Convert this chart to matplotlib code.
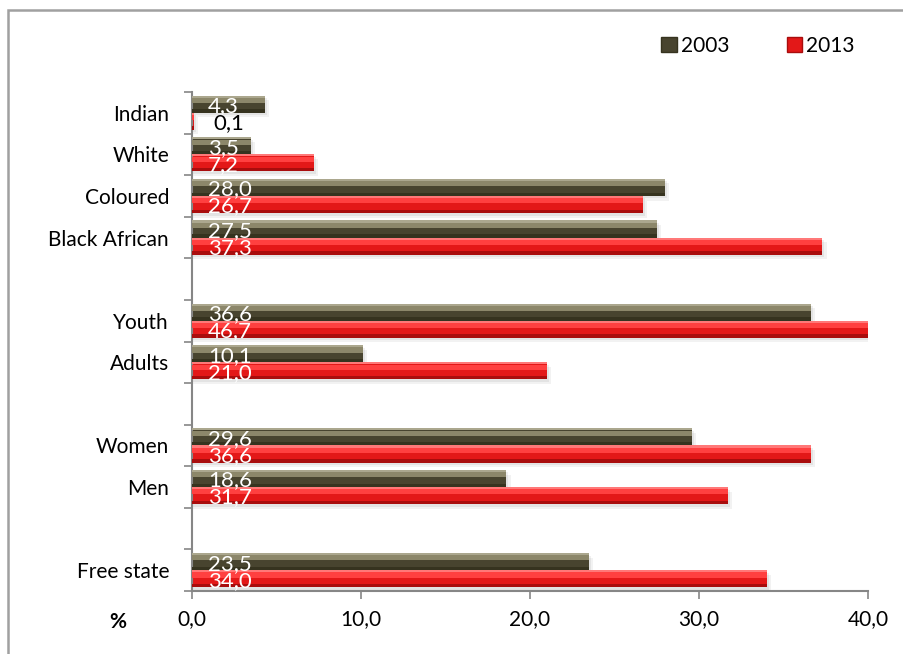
import numpy as np
import matplotlib
matplotlib.use("Agg")
import matplotlib.pyplot as plt
from matplotlib.patches import Rectangle, Patch

# ---------------- data ----------------
categories = ["Free state", "", "Men", "Women", "", "Adults", "Youth", "",
              "Black African", "Coloured", "White", "Indian"]
values_2003 = [23.5, np.nan, 18.6, 29.6, np.nan, 10.1, 36.6, np.nan, 27.5, 28.0, 3.5, 4.3]
values_2013 = [34.0, np.nan, 31.7, 36.6, np.nan, 21.0, 46.7, np.nan, 37.3, 26.7, 7.2, 0.1]
series_names = ["2003", "2013"]
x_ticks = [0, 10, 20, 30, 40]
x_axis_label = "%"

# ---------------- style ----------------
plt.rcParams['font.family'] = ['Lato', 'DejaVu Sans']
FS = 15
GRAY = '#868686'
W, H = 904, 654
fig = plt.figure(figsize=(W / 100, H / 100), dpi=100)
ax = fig.add_axes([192 / W, 1 - 591 / H, (868 - 192) / W, (591 - 92) / H])

palettes = {
    "2003": dict(body='#48442F', dark='#36331F', light='#8C876A', edge='#ABA78E'),
    "2013": dict(body='#E31818', dark='#A90D0D', light='#FF4040', edge='#FF7878'),
}

y = np.arange(len(categories))
h = 0.41
offsets = {"2003": 0.205, "2013": -0.205}
series_vals = {"2003": values_2003, "2013": values_2013}


def draw_bevel_bars(name):
    vals = np.array(series_vals[name], dtype=float)
    mask = ~np.isnan(vals)
    yy = y[mask] + offsets[name]
    vv = vals[mask]
    p = palettes[name]
    # soft shadow
    ax.barh(yy - 0.11, vv + 0.25, height=h, color='#000000', alpha=0.05, zorder=1, linewidth=0)
    ax.barh(yy - 0.06, vv + 0.12, height=h, color='#000000', alpha=0.06, zorder=1, linewidth=0)
    # body
    ax.barh(yy, vv, height=h, color=p['body'], zorder=2, linewidth=0)
    # bottom darker band
    ax.barh(yy - h / 2 + h * 0.10, vv, height=h * 0.20, color=p['dark'], zorder=3, linewidth=0)
    # highlight band
    ax.barh(yy + h / 2 - h * 0.28, vv, height=h * 0.30, color=p['light'], zorder=3, linewidth=0)
    # top edge
    ax.barh(yy + h / 2 - h * 0.06, vv, height=h * 0.12, color=p['edge'], zorder=3, linewidth=0)
    # labels
    for yi, v in zip(yy, vv):
        txt = f"{v:.1f}".replace(".", ",")
        if v < 1:
            ax.annotate(txt, xy=(0, yi), xytext=(21, 0), textcoords='offset pixels',
                        ha='left', va='center_baseline', color='black', fontsize=FS + 1,
                        zorder=5, annotation_clip=False)
        else:
            ax.annotate(txt, xy=(0, yi), xytext=(16, 0), textcoords='offset pixels',
                        ha='left', va='center_baseline', color='white', fontsize=FS + 1,
                        zorder=5, annotation_clip=False)


for name in series_names:
    draw_bevel_bars(name)

ax.set_xlim(x_ticks[0], x_ticks[-1])
ax.set_ylim(-0.5, len(categories) - 0.5)

ax.set_xticks(x_ticks)
ax.set_xticklabels([f"{t:.1f}".replace(".", ",") for t in x_ticks], fontsize=FS)
ax.tick_params(axis='x', direction='out', length=5.8, width=1.2, color=GRAY, pad=7)

ax.set_yticks(y)
ax.set_yticklabels(categories, fontsize=FS)
ax.tick_params(axis='y', which='major', length=0, pad=16.5)
ax.set_yticks(np.arange(-0.5, len(categories), 1.0), minor=True)
ax.tick_params(axis='y', which='minor', direction='out', length=5.8, width=1.2, color=GRAY)

for s in ['top', 'right']:
    ax.spines[s].set_visible(False)
for s in ['left', 'bottom']:
    ax.spines[s].set_color(GRAY)
    ax.spines[s].set_linewidth(1.5)

# "%" label
fig.text(118 / W, 1 - 622 / H, x_axis_label, fontsize=FS, fontweight='bold',
         ha='center', va='center')

# legend
handles = [Patch(facecolor=palettes[n]['body'], edgecolor=palettes[n]['dark'], label=n)
           for n in series_names]
fig.legend(handles=handles, loc='center left', bbox_to_anchor=(661 / W, 1 - 46 / H),
           ncol=2, frameon=False, fontsize=FS, handlelength=0.75, handleheight=0.75,
           handletextpad=0.2, columnspacing=2.75, borderpad=0, borderaxespad=0)

# outer border (only top/left visible)
fig.patches.append(Rectangle((8 / W, -0.5), 2.0, 1.5 - 10 / H, transform=fig.transFigure,
                             fill=False, edgecolor='#A0A0A0', linewidth=1.8, zorder=0))

fig.savefig("out.png", dpi=100)
